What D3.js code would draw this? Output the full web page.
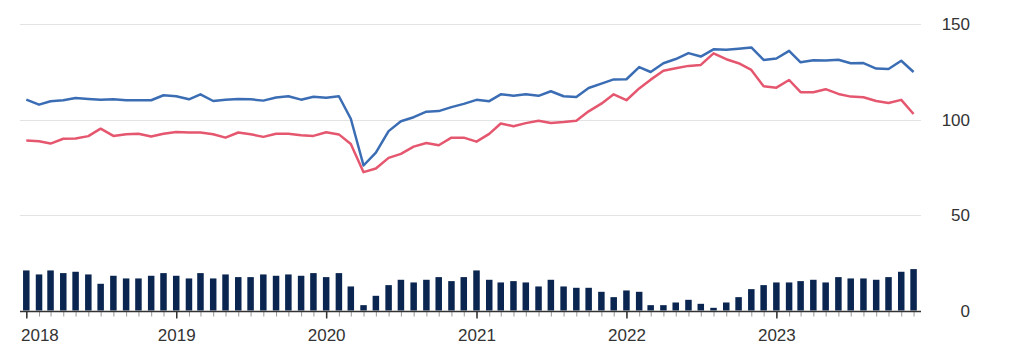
<!DOCTYPE html>
<html>
<head>
<meta charset="utf-8">
<title>Index chart</title>
<script src="https://d3js.org/d3.v7.min.js"></script>
<style>
  body { margin: 0; background: #fff; }
  text { font-family: "Liberation Sans", Arial, sans-serif; fill: #333; }
</style>
</head>
<body>
<div id="chart"></div>
<script>

// monthly, Jan 2018 .. Dec 2023
var startYear = 2018;
var years = [2018, 2019, 2020, 2021, 2022, 2023];

var blueLine = [
  110.5, 107.9, 109.7, 110.2, 111.4, 110.9, 110.4, 110.7, 110.2, 110.2, 110.2, 112.8,
  112.3, 110.7, 113.3, 109.8, 110.4, 110.9, 110.7, 110.0, 111.6, 112.3, 110.5, 112.0,
  111.5, 112.3, 100.5, 76.0, 82.8, 94.0, 99.2, 101.3, 104.2, 104.5, 106.6, 108.3,
  110.4, 109.7, 113.3, 112.6, 113.3, 112.5, 114.9, 112.3, 111.9, 116.6, 118.9, 121.1,
  121.2, 127.6, 125.0, 129.6, 131.8, 134.9, 133.1, 136.9, 136.6, 137.2, 137.9, 131.3,
  132.1, 136.1, 130.1, 131.1, 131.0, 131.4, 129.6, 129.7, 126.8, 126.6, 130.9, 125.0
];

var redLine = [
  89.1, 88.7, 87.5, 90.0, 90.1, 91.4, 95.3, 91.5, 92.4, 92.6, 91.2, 92.6,
  93.5, 93.3, 93.3, 92.4, 90.6, 93.3, 92.4, 91.0, 92.6, 92.6, 91.9, 91.5,
  93.4, 92.3, 87.3, 72.5, 74.4, 80.0, 82.1, 85.9, 87.8, 86.6, 90.6, 90.6,
  88.5, 92.6, 98.0, 96.6, 98.2, 99.5, 98.3, 98.8, 99.5, 104.4, 108.4, 113.3,
  110.2, 116.4, 121.0, 125.7, 127.0, 128.2, 128.7, 134.8, 131.7, 129.6, 126.1, 117.5,
  116.8, 120.8, 114.4, 114.4, 116.0, 113.5, 112.1, 111.8, 109.8, 108.8, 110.4, 103.0
];

var bars = [
  21.0, 18.9, 21.0, 19.6, 20.3, 18.9, 14.0, 18.2, 16.8, 16.8, 18.2, 19.6,
  18.2, 16.8, 19.6, 16.8, 18.9, 17.5, 17.5, 18.9, 18.2, 18.9, 18.2, 19.6,
  17.5, 19.6, 12.6, 2.8, 7.7, 13.3, 16.1, 14.7, 16.1, 17.5, 15.4, 17.5,
  21.0, 16.1, 14.7, 15.4, 14.7, 12.6, 16.1, 12.6, 11.9, 11.9, 9.8, 7.0,
  10.5, 9.8, 2.8, 2.8, 4.2, 5.6, 3.5, 1.4, 4.2, 7.0, 11.2, 13.3,
  14.7, 14.7, 15.4, 16.1, 14.7, 17.5, 16.8, 16.8, 16.1, 17.5, 20.3, 21.7
];

var yTicks = [0, 50, 100, 150];

var width = 1024, height = 363;
var plotLeft = 20, plotRight = 921;

var months = bars.map(function(d, i){ return new Date(startYear, i, 1); });

var svg = d3.select("#chart").append("svg")
  .attr("width", width)
  .attr("height", height);

var x = d3.scaleTime()
  .domain([new Date(2018, 0, 1), new Date(2024, 0, 1)])
  .range([26.3, 926.3]);

var y = d3.scaleLinear()
  .domain([0, 150])
  .range([310.5, 24.3]);

// gridlines
svg.append("g").selectAll("line")
  .data(yTicks.filter(function(d){ return d > 0; }))
  .enter().append("line")
  .attr("x1", plotLeft).attr("x2", plotRight)
  .attr("y1", function(d){ return Math.round(y(d)) + 0.5; })
  .attr("y2", function(d){ return Math.round(y(d)) + 0.5; })
  .attr("stroke", "#e3e3e3")
  .attr("stroke-width", 1);

// y labels on the right
svg.append("g").selectAll("text")
  .data(yTicks)
  .enter().append("text")
  .attr("x", 970)
  .attr("y", function(d){ return y(d); })
  .attr("dy", "0.36em")
  .attr("text-anchor", "end")
  .style("font-size", "17px")
  .text(function(d){ return d; });

// bars
svg.append("g").selectAll("rect")
  .data(bars)
  .enter().append("rect")
  .attr("x", function(d, i){ return x(months[i]) - 3.25; })
  .attr("width", 6.5)
  .attr("y", function(d){ return y(d); })
  .attr("height", function(d){ return y(0) - y(d); })
  .attr("fill", "#0a2650");

// lines
var line = d3.line()
  .x(function(d, i){ return x(months[i]); })
  .y(function(d){ return y(d); });

svg.append("path")
  .datum(redLine)
  .attr("fill", "none")
  .attr("stroke", "#e5566f")
  .attr("stroke-width", 2.5)
  .attr("stroke-linejoin", "round")
  .attr("d", line);

svg.append("path")
  .datum(blueLine)
  .attr("fill", "none")
  .attr("stroke", "#3b6db4")
  .attr("stroke-width", 2.5)
  .attr("stroke-linejoin", "round")
  .attr("d", line);

// x axis: monthly minor ticks, yearly major ticks
var axisY = Math.round(y(0)) + 0.5;

var minor = svg.append("g")
  .attr("transform", "translate(0," + axisY + ")")
  .call(d3.axisBottom(x).tickValues(months).tickSize(5).tickFormat(""));
minor.select(".domain").remove();
minor.selectAll("line").attr("stroke", "#999");

var major = svg.append("g")
  .attr("transform", "translate(0," + axisY + ")")
  .call(d3.axisBottom(x)
    .tickValues(years.map(function(yr){ return new Date(yr, 0, 1); }))
    .tickSize(7)
    .tickPadding(10)
    .tickFormat(d3.timeFormat("%Y")));
major.select(".domain").remove();
major.selectAll("line").attr("stroke", "#333").attr("stroke-width", 1.5);
major.selectAll("text")
  .style("font-size", "17px")
  .attr("fill", "#333");

// keep the first label inside the plot edge
major.selectAll("text").each(function(){
  var t = d3.select(this);
  var tx = +d3.select(this.parentNode).attr("transform").match(/translate\(([^,]+)/)[1];
  var w = this.getComputedTextLength();
  if (tx - w / 2 < plotLeft) t.attr("x", plotLeft + w / 2 + 1 - tx);
});

svg.append("line")
  .attr("x1", plotLeft).attr("x2", plotRight)
  .attr("y1", axisY).attr("y2", axisY)
  .attr("stroke", "#333")
  .attr("stroke-width", 1.5);

</script>
</body>
</html>
